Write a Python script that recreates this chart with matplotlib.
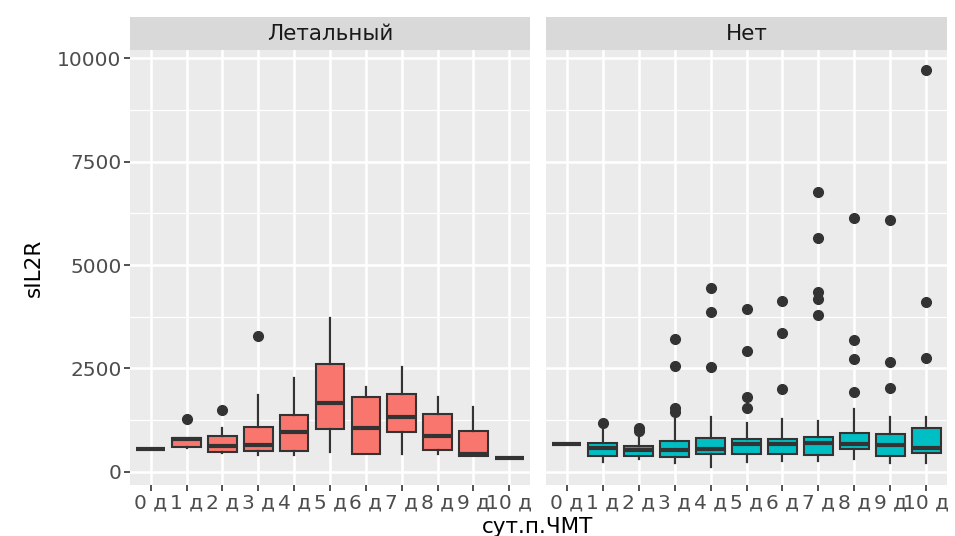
import matplotlib
matplotlib.use("Agg")
import matplotlib.pyplot as plt
from matplotlib.ticker import MultipleLocator

plt.rcParams['font.family'] = ['DejaVu Sans']

days = ['0 д', '1 д', '2 д', '3 д', '4 д', '5 д', '6 д', '7 д', '8 д', '9 д', '10 д']
groups = ['Летальный', 'Нет']
fills = ['#F8766D', '#00BFC4']

# Летальный
let_low = [549, 581, 460, 397, 397, 477, 428, 428, 428, 387, 339]
let_q1 = [549, 605, 469, 501, 508, 1033, 428, 953, 518, 387, 339]
let_med = [549, 790, 622, 653, 968, 1670, 1058, 1316, 871, 421, 339]
let_q3 = [549, 823, 864, 1082, 1365, 2614, 1800, 1873, 1389, 992, 339]
let_high = [549, 823, 1065, 1849, 2275, 3712, 2050, 2541, 1808, 1566, 339]
let_out = [[], [1268], [1500], [3284], [], [], [], [], [], [], []]

# Нет
net_low = [663, 242, 300, 203, 121, 227, 259, 259, 307, 203, 203]
net_q1 = [663, 387, 387, 363, 421, 421, 421, 404, 542, 387, 460]
net_med = [663, 566, 525, 525, 549, 663, 663, 687, 663, 646, 566]
net_q3 = [663, 687, 622, 743, 808, 791, 784, 847, 944, 912, 1058]
net_high = [663, 1089, 912, 1275, 1316, 1171, 1268, 1227, 1510, 1316, 1331]
net_out = [[], [1171], [985, 1060], [1450, 1540, 2558, 3204], [2526, 3872, 4438],
           [1535, 1818, 2928, 3937], [1997, 3364, 4138], [3800, 4179, 4341, 5648, 6776],
           [1924, 2727, 3194, 6147], [2021, 2647, 6091], [2744, 4114, 9721]]

series = [(let_low, let_q1, let_med, let_q3, let_high, let_out),
          (net_low, net_q1, net_med, net_q3, net_high, net_out)]

fig = plt.figure(figsize=(9.55, 5.36), dpi=100)
W, H = 955, 536
panels = [(130, 530), (546, 947)]
top, bottom, strip_top = 50, 485, 17

for i, (x0, x1) in enumerate(panels):
    ax = fig.add_axes([x0 / W, 1 - bottom / H, (x1 - x0) / W, (bottom - top) / H])
    sax = fig.add_axes([x0 / W, 1 - top / H, (x1 - x0) / W, (top - strip_top) / H])
    sax.set_facecolor('#D9D9D9')
    sax.set_xticks([]); sax.set_yticks([])
    for s in sax.spines.values():
        s.set_visible(False)
    sax.text(0.5, 0.47, groups[i], ha='center', va='center', fontsize=15.5, color='#1A1A1A',
             transform=sax.transAxes)

    lo, q1, med, q3, hi, out = series[i]
    stats = []
    for k in range(len(days)):
        stats.append(dict(whislo=lo[k], q1=q1[k], med=med[k], q3=q3[k], whishi=hi[k],
                          fliers=out[k], label=days[k]))
    ax.set_facecolor('#EBEBEB')
    ax.set_axisbelow(True)
    ax.bxp(stats, positions=range(len(days)), widths=0.8, patch_artist=True, showcaps=False,
           boxprops=dict(facecolor=fills[i], edgecolor='#333333', linewidth=1.5),
           medianprops=dict(color='#333333', linewidth=3),
           whiskerprops=dict(color='#333333', linewidth=1.6),
           flierprops=dict(marker='o', markerfacecolor='#333333', markeredgecolor='#333333',
                           markersize=7))
    ax.set_xlim(-0.58, len(days) - 1 + 0.58)
    ax.set_ylim(-322, 10205)
    ax.yaxis.set_major_locator(MultipleLocator(2500))
    ax.yaxis.set_minor_locator(MultipleLocator(1250))
    ax.grid(which='major', color='white', linewidth=1.8)
    ax.grid(which='minor', axis='y', color='white', linewidth=0.9)
    for s in ax.spines.values():
        s.set_visible(False)
    ax.set_xticks(range(len(days)))
    ax.set_xticklabels(days)
    ax.tick_params(axis='both', which='major', colors='#333333', length=4, width=1.2,
                   labelsize=14.5, labelcolor='#4D4D4D', pad=2)
    ax.tick_params(axis='y', which='minor', length=0)
    if i == 0:
        ax.set_ylabel('sIL2R', fontsize=15.5, color='black', labelpad=10)
    else:
        ax.tick_params(axis='y', which='both', length=0, labelleft=False)

fig.text(538 / W, 1 - 527 / H, 'сут.п.ЧМТ', ha='center', va='center', fontsize=15.5, color='black')

fig.savefig('out.png', dpi=100)
